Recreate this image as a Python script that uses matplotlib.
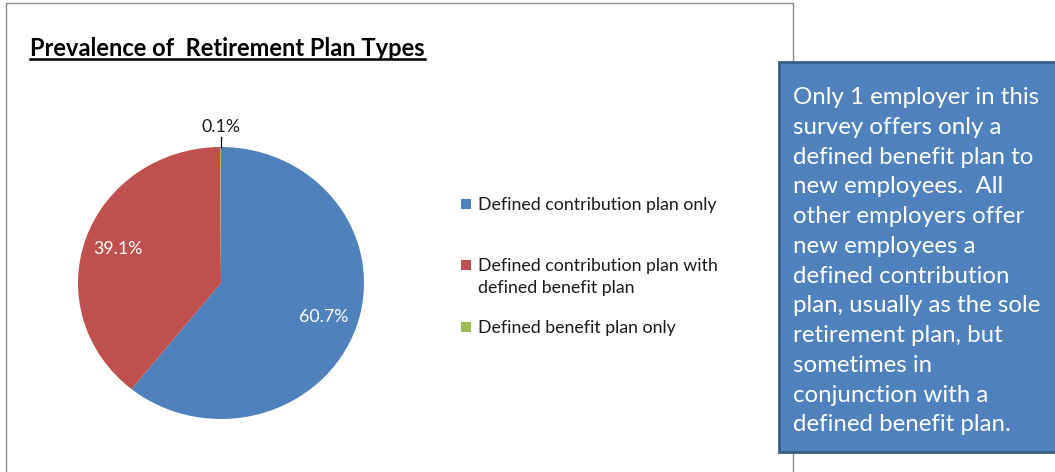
import matplotlib
matplotlib.use('Agg')
from matplotlib import pyplot as plt
from matplotlib.patches import Rectangle
from matplotlib.lines import Line2D
import numpy as np

plt.rcParams['font.family'] = ['Lato', 'DejaVu Sans']

title = 'Prevalence of  Retirement Plan Types'
categories = ['Defined contribution plan only',
              'Defined contribution plan with\ndefined benefit plan',
              'Defined benefit plan only']
shares = [60.7, 39.1, 0.1]
colors = ['#4F81BD', '#C0504D', '#9BBB59']
note_lines = ['Only 1 employer in this',
              'survey offers only a',
              'defined benefit plan to',
              'new employees.  All',
              'other employers offer',
              'new employees a',
              'defined contribution',
              'plan, usually as the sole',
              'retirement plan, but',
              'sometimes in',
              'conjunction with a',
              'defined benefit plan.']

W, H = 1055, 472
fig = plt.figure(figsize=(W / 100, H / 100), dpi=100)


def fx(x):
    return x / W


def fy(y):
    return 1 - y / H


# chart area frame
fig.add_artist(Rectangle((fx(6), fy(480)), 787 / W, 477 / H, transform=fig.transFigure,
                         fill=False, ec='#8c8c8c', lw=1))

# title, underlined by hand
t = fig.text(fx(30), fy(56), title, fontsize=17, fontweight='bold', color='black',
             ha='left', va='baseline')

# pie (Excel draws it a bit wider than tall)
cx, cy, rx, ry, pad = 221, 283, 143, 136, 1.3
ax = fig.add_axes([fx(cx - rx * pad), fy(cy + ry * pad), 2 * rx * pad / W, 2 * ry * pad / H])
wedges, _ = ax.pie(shares, colors=colors, startangle=90, counterclock=False,
                   wedgeprops=dict(linewidth=0))
ax.set_xlim(-pad, pad)
ax.set_ylim(-pad, pad)
ax.set_aspect('auto')
ax.axis('off')

for i, (w, v) in enumerate(zip(wedges, shares)):
    mid = np.deg2rad((w.theta1 + w.theta2) / 2)
    if v < 1:
        x = np.cos(mid)
        ax.plot([x, x], [1.0, 1.075], color='black', lw=0.9)
        ax.text(x, 1.15, f'{v:.1f}%', ha='center', va='center', fontsize=12.8, color='#1a1a1a')
    else:
        ax.text(0.76 * np.cos(mid), 0.76 * np.sin(mid), f'{v:.1f}%', ha='center', va='center',
                fontsize=12.8, color='white')

# legend with Excel's uneven spacing
legend_y = [204, 265, 327]
for label, c, y in zip(categories, colors, legend_y):
    fig.add_artist(Rectangle((fx(461), fy(y + 5)), 10 / W, 10 / H, transform=fig.transFigure,
                             fc=c, ec='none'))
    fig.text(fx(478), fy(y - 7), label, fontsize=12.8, color='#1a1a1a', ha='left', va='top',
             linespacing=1.45)

# note box
fig.add_artist(Rectangle((fx(779), fy(452)), 290 / W, 390 / H, transform=fig.transFigure,
                         fc='#4F81BD', ec='#385D8A', lw=2))
fig.text(fx(793), fy(87), '\n'.join(note_lines), fontsize=17.3, color='white',
         ha='left', va='top', linespacing=1.515)

fig.canvas.draw()
bb = t.get_window_extent()
base = fy(56) * H - 2.5
fig.add_artist(Line2D([bb.x0 / W, bb.x1 / W], [base / H, base / H], transform=fig.transFigure,
                      color='black', lw=1.8))

fig.savefig('out.png', dpi=100)
